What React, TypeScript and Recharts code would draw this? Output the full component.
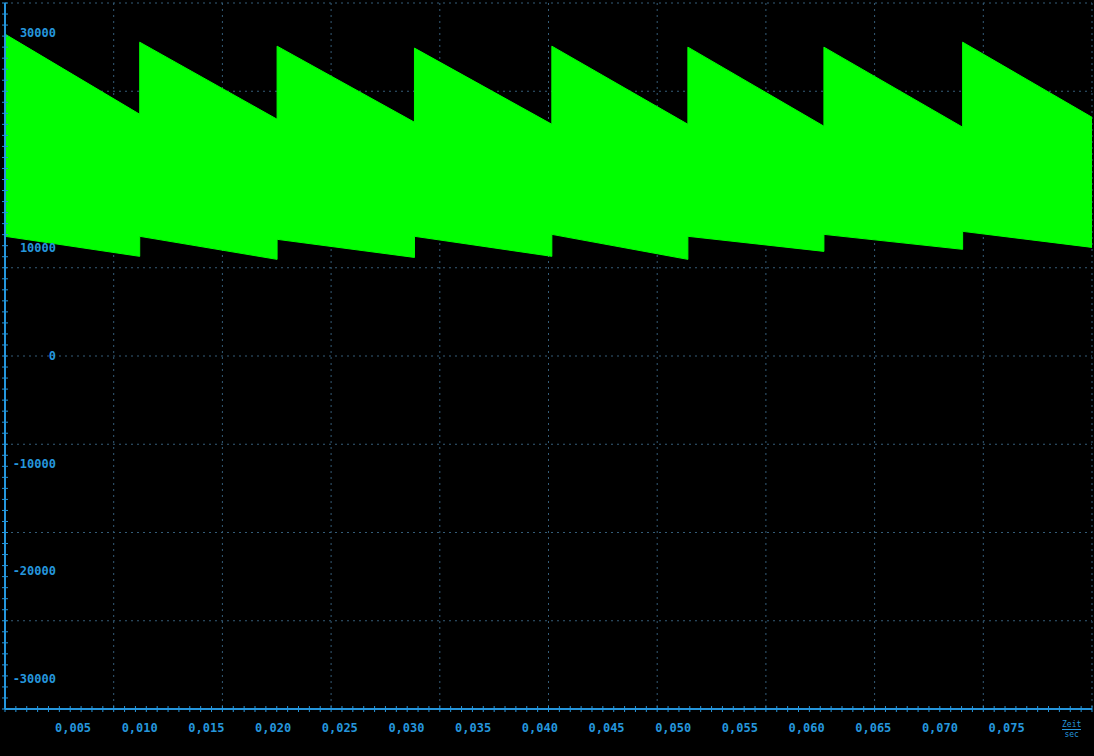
import { ComposedChart, Area, XAxis, YAxis, CartesianGrid } from "recharts";

// sawtooth envelope of the waveform, one entry per segment
const segStart = [-0.0001, 0.01, 0.0203, 0.0306, 0.0409, 0.0511, 0.0613, 0.0717];
const segEnd = [0.01, 0.0203, 0.0306, 0.0409, 0.0511, 0.0613, 0.0717, 0.0814];
const upperStart = [29880, 29130, 28760, 28580, 28760, 28670, 28670, 29130];
const upperEnd = [22440, 21980, 21700, 21510, 21510, 21330, 21240, 22160];
const lowerStart = [11110, 11110, 10830, 11110, 11290, 11110, 11290, 11570];
const lowerEnd = [9250, 8970, 9150, 9250, 8970, 9710, 9900, 10080];

const xLabelTicks = [0.005, 0.01, 0.015, 0.02, 0.025, 0.03, 0.035, 0.04, 0.045, 0.05, 0.055, 0.06, 0.065, 0.07, 0.075];
// 20000 sits under the green band in the original, so it's not shown
const yLabelTicks = [-30000, -20000, -10000, 0, 10000, 30000];

const xDomain: [number, number] = [-0.0001, 0.0814];
const yDomain: [number, number] = [-32768, 32767];

const X_DIVS = 10;
const Y_DIVS = 8;

const BLUE = "#2596dc";
const GRID = "#345c78";
const GREEN = "#00ff00";

const data: { t: number; range: [number, number] }[] = [];
segStart.forEach((s, i) => {
  data.push({ t: s, range: [lowerStart[i], upperStart[i]] });
  data.push({ t: segEnd[i], range: [lowerEnd[i], upperEnd[i]] });
});

// minor tick marks along the axes (10 per grid division on x, 8 on y)
const minorTicks = (d: [number, number], n: number) =>
  Array.from({ length: n + 1 }, (_, i) => d[0] + (i * (d[1] - d[0])) / n);

const xTicks = [...xLabelTicks, ...minorTicks(xDomain, X_DIVS * 10)];
const yTicks = [...yLabelTicks, ...minorTicks(yDomain, Y_DIVS * 8)];

const fmtX = (v: number) => v.toFixed(3).replace(".", ",");

function XTick(props: any) {
  const { x, y, payload } = props;
  const v = payload.value;
  if (xLabelTicks.includes(v)) {
    return (
      <text x={x} y={y + 23} textAnchor="middle" fill={BLUE} fontSize={12} fontFamily="DejaVu Sans Mono" fontWeight="bold">
        {fmtX(v)}
      </text>
    );
  }
  return <line x1={x} x2={x} y1={y - 3} y2={y + 3} stroke={BLUE} strokeWidth={1} />;
}

function YTick(props: any) {
  const { x, y, payload } = props;
  const v = payload.value;
  if (yLabelTicks.includes(v)) {
    return (
      <text x={x + 51} y={y + 4} textAnchor="end" fill={BLUE} fontSize={12} fontFamily="DejaVu Sans Mono" fontWeight="bold">
        {v}
      </text>
    );
  }
  return <line x1={x - 3} x2={x + 3} y1={y} y2={y} stroke={BLUE} strokeWidth={1} />;
}

export default function App() {
  return (
    <div style={{ position: "absolute", left: 0, top: 0, width: 1094, height: 756, background: "#000" }}>
      <ComposedChart width={1094} height={756} data={data} margin={{ top: 3, right: 2, bottom: 0, left: 0 }}>
        <CartesianGrid
          stroke={GRID}
          strokeDasharray="2 4"
          verticalCoordinatesGenerator={({ offset }: any) =>
            Array.from({ length: X_DIVS + 1 }, (_, i) => offset.left + (i * offset.width) / X_DIVS)
          }
          horizontalCoordinatesGenerator={({ offset }: any) =>
            Array.from({ length: Y_DIVS + 1 }, (_, i) => offset.top + (i * offset.height) / Y_DIVS)
          }
        />
        <XAxis
          dataKey="t"
          type="number"
          domain={xDomain}
          ticks={xTicks}
          interval={0}
          tick={<XTick />}
          tickLine={false}
          tickSize={0}
          tickMargin={0}
          height={47}
          axisLine={{ stroke: BLUE, strokeWidth: 2 }}
          allowDataOverflow
        />
        <YAxis
          type="number"
          domain={yDomain}
          ticks={yTicks}
          interval={0}
          tick={<YTick />}
          tickLine={false}
          tickSize={0}
          tickMargin={0}
          width={5}
          axisLine={{ stroke: BLUE, strokeWidth: 2 }}
          allowDataOverflow
        />
        <Area
          type="linear"
          dataKey="range"
          stroke={GREEN}
          strokeWidth={1}
          fill={GREEN}
          fillOpacity={1}
          isAnimationActive={false}
          dot={false}
          activeDot={false}
        />
      </ComposedChart>
      <div
        style={{
          position: "absolute",
          left: 1062,
          top: 720,
          color: BLUE,
          fontFamily: "DejaVu Sans Mono",
          fontSize: 8,
          lineHeight: "9px",
          textAlign: "center",
        }}
      >
        <div>Zeit</div>
        <div style={{ borderTop: `1px solid ${BLUE}` }}>sec</div>
      </div>
    </div>
  );
}
